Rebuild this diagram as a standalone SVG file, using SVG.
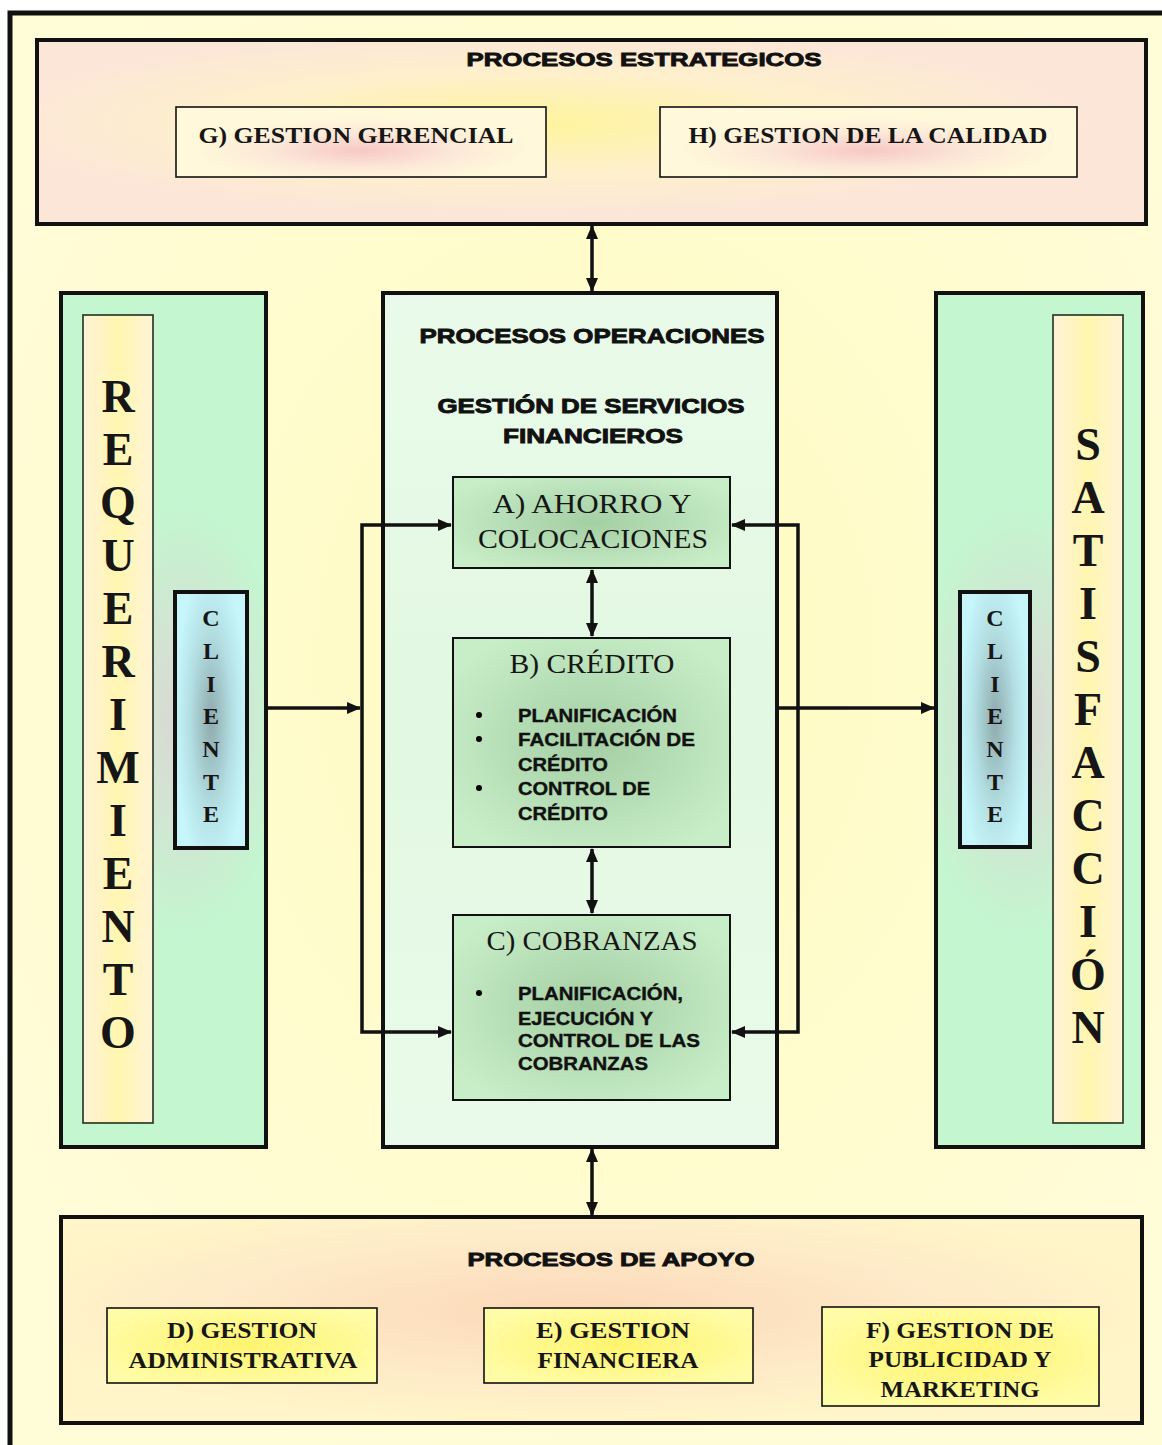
<svg xmlns="http://www.w3.org/2000/svg" width="1162" height="1445" viewBox="0 0 1162 1445">
<style>
.sans{font-family:"Liberation Sans",Arial,sans-serif;font-weight:bold;fill:#111;stroke:#111;stroke-width:0.9}
.serifb{font-family:"Liberation Serif","Times New Roman",serif;font-weight:bold;fill:#161616}
.serif{font-family:"Liberation Serif","Times New Roman",serif;fill:#161616}
.mid{text-anchor:middle}
.bul{font-family:"Liberation Sans",Arial,sans-serif;font-weight:bold;fill:#111;stroke:#111;stroke-width:0.4;font-size:19px}
.big{font-size:46px}
.cli{font-size:24px}
.frame{stroke:#111}
.conn{stroke:#111;stroke-width:3.5;fill:none}
</style>
<defs>
<radialGradient id="gBg" cx="0.5" cy="0.45" r="0.6">
<stop offset="0" stop-color="#FFFBC0"/><stop offset="1" stop-color="#FFFCD8"/>
</radialGradient>
<radialGradient id="gTop" cx="0.45" cy="0.45" r="0.5">
<stop offset="0" stop-color="#FFF49E"/><stop offset="0.55" stop-color="#FEF0CC"/><stop offset="1" stop-color="#FCE6D8"/>
</radialGradient>
<radialGradient id="gBot" cx="0.48" cy="0.45" r="0.55">
<stop offset="0" stop-color="#FBD8B8"/><stop offset="0.6" stop-color="#FEEAC8"/><stop offset="1" stop-color="#FFF5C8"/>
</radialGradient>
<radialGradient id="gGH" cx="0.5" cy="0.62" r="0.45">
<stop offset="0" stop-color="#F7C8C6"/><stop offset="0.55" stop-color="#FCE8D8"/><stop offset="1" stop-color="#FFF8DA"/>
</radialGradient>
<radialGradient id="gDEF" cx="0.5" cy="0.5" r="0.6">
<stop offset="0" stop-color="#FFF46E"/><stop offset="1" stop-color="#FFFCA8"/>
</radialGradient>
<radialGradient id="gGreen" cx="0.6" cy="0.5" r="0.5" gradientTransform="translate(0.5 0.5) scale(1 0.5) translate(-0.5 -0.5)">
<stop offset="0" stop-color="#DCD6D4"/><stop offset="1" stop-color="#C4F6D0"/>
</radialGradient>
<radialGradient id="gGreenR" cx="0.4" cy="0.5" r="0.5" gradientTransform="translate(0.5 0.5) scale(1 0.5) translate(-0.5 -0.5)">
<stop offset="0" stop-color="#DCD6D4"/><stop offset="1" stop-color="#C4F6D0"/>
</radialGradient>
<linearGradient id="gStrip" x1="0" y1="0" x2="1" y2="0">
<stop offset="0" stop-color="#FFF2D6"/><stop offset="0.5" stop-color="#FFF6B0"/><stop offset="1" stop-color="#FFF3D6"/>
</linearGradient>
<radialGradient id="gCli" cx="0.5" cy="0.5" r="0.5" gradientTransform="translate(0.5 0.5) scale(1 1.2) translate(-0.5 -0.5)">
<stop offset="0" stop-color="#8FAAAE"/><stop offset="0.6" stop-color="#B4E0E4"/><stop offset="1" stop-color="#C6F6FA"/>
</radialGradient>
<linearGradient id="gCenter" x1="0" y1="0" x2="0" y2="1">
<stop offset="0" stop-color="#EAFAEA"/><stop offset="0.5" stop-color="#E2F8E2"/><stop offset="1" stop-color="#EAFAEA"/>
</linearGradient>
<radialGradient id="gABC" cx="0.5" cy="0.5" r="0.6">
<stop offset="0" stop-color="#A4CEA4"/><stop offset="1" stop-color="#C8EEC8"/>
</radialGradient>
<marker id="ah" markerUnits="userSpaceOnUse" markerWidth="14" markerHeight="12" refX="13" refY="6" orient="auto-start-reverse">
<path d="M0,0 L14,6 L0,12 z" fill="#111"/>
</marker>
</defs>

<rect x="0" y="0" width="1162" height="1445" fill="#FFFFFF"/>
<g id="frame">
<rect x="10" y="13" width="1170" height="1450" fill="url(#gBg)" class="frame" stroke-width="5"/>
</g>

<g id="estrategicos">
<rect x="37" y="40" width="1109" height="184" fill="url(#gTop)" class="frame" stroke-width="4"/>
<text x="644" y="66" class="sans mid" font-size="19" textLength="355" lengthAdjust="spacingAndGlyphs">PROCESOS ESTRATEGICOS</text>
</g>
<g id="gestion-gerencial">
<rect x="176" y="107" width="370" height="70" fill="url(#gGH)" class="frame" stroke-width="1.6"/>
<text x="356" y="143" class="serifb mid" font-size="24" textLength="315" lengthAdjust="spacingAndGlyphs">G) GESTION  GERENCIAL</text>
</g>
<g id="gestion-calidad">
<rect x="660" y="107" width="417" height="70" fill="url(#gGH)" class="frame" stroke-width="1.6"/>
<text x="868" y="143" class="serifb mid" font-size="24" textLength="359" lengthAdjust="spacingAndGlyphs">H) GESTION DE LA CALIDAD</text>
</g>

<g id="requerimiento">
<rect x="61" y="293" width="205" height="854" fill="url(#gGreen)" class="frame" stroke-width="4"/>
<rect x="83" y="315" width="70" height="808" fill="url(#gStrip)" stroke="#203020" stroke-width="1.6"/>
<g class="serifb big mid">
<text x="118" y="412">R</text><text x="118" y="465">E</text><text x="118" y="518">Q</text><text x="118" y="571">U</text><text x="118" y="624">E</text><text x="118" y="677">R</text><text x="118" y="730">I</text><text x="118" y="783">M</text><text x="118" y="836">I</text><text x="118" y="889">E</text><text x="118" y="942">N</text><text x="118" y="995">T</text><text x="118" y="1048">O</text>
</g>
</g>
<g id="cliente-izq">
<rect x="175" y="592" width="72" height="256" fill="url(#gCli)" class="frame" stroke-width="4"/>
<g class="serifb cli mid">
<text x="211" y="626">C</text><text x="211" y="659">L</text><text x="211" y="692">I</text><text x="211" y="724">E</text><text x="211" y="757">N</text><text x="211" y="790">T</text><text x="211" y="822">E</text>
</g>
</g>

<g id="satisfaccion">
<rect x="936" y="293" width="207" height="854" fill="url(#gGreenR)" class="frame" stroke-width="4"/>
<rect x="1053" y="315" width="70" height="808" fill="url(#gStrip)" stroke="#203020" stroke-width="1.6"/>
<g class="serifb big mid">
<text x="1088" y="460">S</text><text x="1088" y="513">A</text><text x="1088" y="566">T</text><text x="1088" y="619">I</text><text x="1088" y="672">S</text><text x="1088" y="725">F</text><text x="1088" y="778">A</text><text x="1088" y="831">C</text><text x="1088" y="884">C</text><text x="1088" y="937">I</text><text x="1088" y="990">Ó</text><text x="1088" y="1043">N</text>
</g>
</g>
<g id="cliente-der">
<rect x="960" y="592" width="70" height="255" fill="url(#gCli)" class="frame" stroke-width="4"/>
<g class="serifb cli mid">
<text x="995" y="626">C</text><text x="995" y="659">L</text><text x="995" y="692">I</text><text x="995" y="724">E</text><text x="995" y="757">N</text><text x="995" y="790">T</text><text x="995" y="822">E</text>
</g>
</g>

<g id="operaciones">
<rect x="383" y="293" width="394" height="854" fill="url(#gCenter)" class="frame" stroke-width="4"/>
<text x="592" y="343" class="sans mid" font-size="21" textLength="345" lengthAdjust="spacingAndGlyphs">PROCESOS OPERACIONES</text>
<text x="591" y="413" class="sans mid" font-size="21" textLength="307" lengthAdjust="spacingAndGlyphs">GESTIÓN DE SERVICIOS</text>
<text x="593" y="443" class="sans mid" font-size="21" textLength="180" lengthAdjust="spacingAndGlyphs">FINANCIEROS</text>
</g>

<g id="ahorro">
<rect x="453" y="477" width="277" height="91" fill="url(#gABC)" class="frame" stroke-width="2"/>
<text x="592" y="513" class="serif mid" font-size="27" textLength="199" lengthAdjust="spacingAndGlyphs">A)  AHORRO Y</text>
<text x="593" y="548" class="serif mid" font-size="27" textLength="230" lengthAdjust="spacingAndGlyphs">COLOCACIONES</text>
</g>

<g id="credito">
<rect x="453" y="638" width="277" height="209" fill="url(#gABC)" class="frame" stroke-width="2"/>
<text x="592" y="673" class="serif mid" font-size="27" textLength="165" lengthAdjust="spacingAndGlyphs">B) CRÉDITO</text>
<circle cx="479" cy="715" r="3"/><circle cx="479" cy="739" r="3"/><circle cx="479" cy="788" r="3"/>
<text x="518" y="722" class="bul" textLength="159" lengthAdjust="spacingAndGlyphs">PLANIFICACIÓN</text>
<text x="518" y="746" class="bul" textLength="177" lengthAdjust="spacingAndGlyphs">FACILITACIÓN DE</text>
<text x="518" y="771" class="bul" textLength="90" lengthAdjust="spacingAndGlyphs">CRÉDITO</text>
<text x="518" y="795" class="bul" textLength="132" lengthAdjust="spacingAndGlyphs">CONTROL DE</text>
<text x="518" y="820" class="bul" textLength="90" lengthAdjust="spacingAndGlyphs">CRÉDITO</text>
</g>

<g id="cobranzas">
<rect x="453" y="915" width="277" height="185" fill="url(#gABC)" class="frame" stroke-width="2"/>
<text x="592" y="950" class="serif mid" font-size="27" textLength="211" lengthAdjust="spacingAndGlyphs">C) COBRANZAS</text>
<circle cx="479" cy="993" r="3"/>
<text x="518" y="1000" class="bul" textLength="165" lengthAdjust="spacingAndGlyphs">PLANIFICACIÓN,</text>
<text x="518" y="1025" class="bul" textLength="135" lengthAdjust="spacingAndGlyphs">EJECUCIÓN Y</text>
<text x="518" y="1047" class="bul" textLength="182" lengthAdjust="spacingAndGlyphs">CONTROL DE LAS</text>
<text x="518" y="1070" class="bul" textLength="130" lengthAdjust="spacingAndGlyphs">COBRANZAS</text>
</g>

<g id="apoyo">
<rect x="61" y="1217" width="1081" height="206" fill="url(#gBot)" class="frame" stroke-width="4"/>
<text x="611" y="1266" class="sans mid" font-size="19" textLength="287" lengthAdjust="spacingAndGlyphs">PROCESOS DE APOYO</text>
</g>
<g id="gestion-administrativa">
<rect x="107" y="1308" width="270" height="75" fill="url(#gDEF)" class="frame" stroke-width="1.6"/>
<text x="242" y="1338" class="serifb mid" font-size="24" textLength="150" lengthAdjust="spacingAndGlyphs">D) GESTION</text>
<text x="243" y="1368" class="serifb mid" font-size="24" textLength="229" lengthAdjust="spacingAndGlyphs">ADMINISTRATIVA</text>
</g>
<g id="gestion-financiera">
<rect x="484" y="1308" width="269" height="75" fill="url(#gDEF)" class="frame" stroke-width="1.6"/>
<text x="613" y="1338" class="serifb mid" font-size="24" textLength="154" lengthAdjust="spacingAndGlyphs">E) GESTION</text>
<text x="618" y="1368" class="serifb mid" font-size="24" textLength="161" lengthAdjust="spacingAndGlyphs">FINANCIERA</text>
</g>
<g id="gestion-publicidad">
<rect x="822" y="1307" width="277" height="99" fill="url(#gDEF)" class="frame" stroke-width="1.6"/>
<text x="960" y="1338" class="serifb mid" font-size="24" textLength="188" lengthAdjust="spacingAndGlyphs">F) GESTION DE</text>
<text x="960" y="1367" class="serifb mid" font-size="24" textLength="183" lengthAdjust="spacingAndGlyphs">PUBLICIDAD Y</text>
<text x="960" y="1397" class="serifb mid" font-size="24" textLength="159" lengthAdjust="spacingAndGlyphs">MARKETING</text>
</g>

<g id="connectors">
<line x1="592" y1="226" x2="592" y2="291" class="conn" marker-start="url(#ah)" marker-end="url(#ah)"/>
<line x1="592" y1="570" x2="592" y2="636" class="conn" marker-start="url(#ah)" marker-end="url(#ah)"/>
<line x1="592" y1="849" x2="592" y2="913" class="conn" marker-start="url(#ah)" marker-end="url(#ah)"/>
<line x1="592" y1="1149" x2="592" y2="1215" class="conn" marker-start="url(#ah)" marker-end="url(#ah)"/>
<line x1="268" y1="708" x2="360" y2="708" class="conn" marker-end="url(#ah)"/>
<polyline points="451,525 362,525 362,1032 451,1032" class="conn" marker-start="url(#ah)" marker-end="url(#ah)"/>
<polyline points="732,525 798,525 798,1032 732,1032" class="conn" marker-start="url(#ah)" marker-end="url(#ah)"/>
<line x1="779" y1="708" x2="934" y2="708" class="conn" marker-end="url(#ah)"/>
</g>
</svg>
